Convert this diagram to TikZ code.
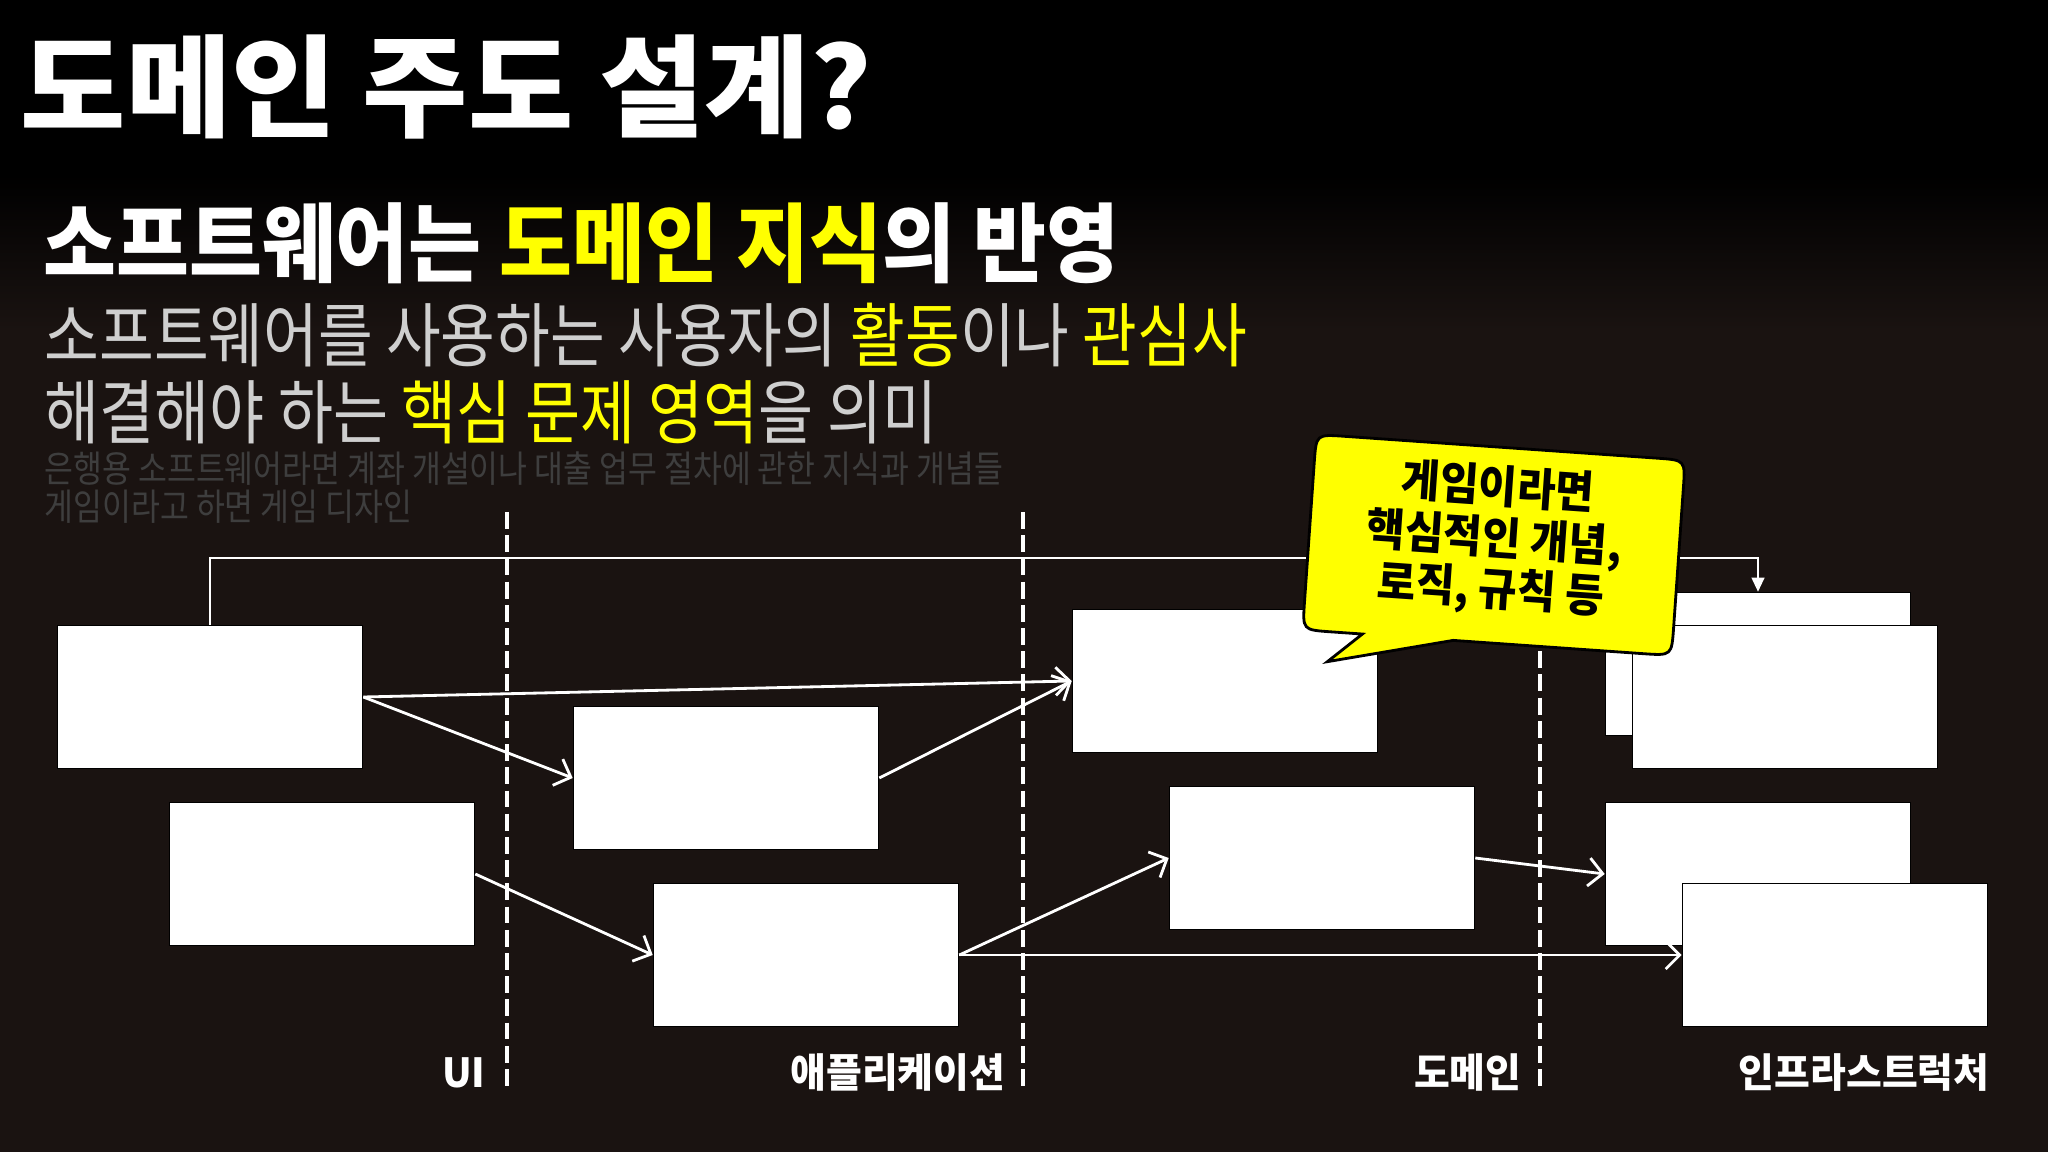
\documentclass[tikz,border=0pt]{standalone}
\usepackage{fontspec}
\newfontfamily\kr{Noto Sans CJK KR}
\usetikzlibrary{arrows.meta}

\definecolor{bgdark}{HTML}{1A1311}
\definecolor{hl}{HTML}{FFFF00}
\definecolor{descgray}{HTML}{CFCFCF}
\definecolor{faintgray}{HTML}{3E3E3E}

\tikzset{
	box/.style={draw=black, fill=white, line width=0.4pt, minimum width=3.05cm, minimum height=1.43cm, inner sep=0pt},
	flow/.style={draw=white, line width=0.8pt, -{Straight Barb[length=4pt,width=8pt]}},
	layer/.style={draw=white, line width=1.2pt, dash pattern=on 4.8pt off 1.8pt},
	txt/.style={inner sep=0pt, anchor=base west, transform shape},
	tag/.style={inner sep=0pt, anchor=base east, xscale=0.97, transform shape, white, font=\kr\bfseries\fontsize{11.4}{13}\selectfont},
}

\begin{document}
\begin{tikzpicture}[x=0.01cm, y=-0.01cm]	%1 unit = 1px, y going down
	\useasboundingbox (0,0) rectangle (2048,1152);
	\fill[bgdark] (0,0) rectangle (2048,1152);
	\fill[black] (0,0) rectangle (2048,175);
	\shade[top color=black, bottom color=bgdark] (0,175) rectangle (2048,330);

	% heading and text
	\node[txt, xscale=1.03, white, font=\kr\bfseries\fontsize{31.6}{36}\selectfont] (title) at (20,129) {도메인 주도 설계?};
	\node[txt, xscale=0.92, white, font=\kr\bfseries\fontsize{24.5}{28}\selectfont] (sub) at (43,276) {소프트웨어는 \textcolor{hl}{도메인 지식}의 반영};
	\node[txt, xscale=0.85, descgray, font=\kr\fontsize{19.9}{23}\selectfont] (desc1) at (44,362) {소프트웨어를 사용하는 사용자의 \textcolor{hl}{활동}이나 \textcolor{hl}{관심사}};
	\node[txt, xscale=0.855, descgray, font=\kr\fontsize{19.9}{23}\selectfont] (desc2) at (44,439) {해결해야 하는 \textcolor{hl}{핵심 문제 영역}을 의미};
	\node[txt, xscale=0.85, faintgray, font=\kr\fontsize{10.5}{12}\selectfont] (ex1) at (44,483) {은행용 소프트웨어라면 계좌 개설이나 대출 업무 절차에 관한 지식과 개념들};
	\node[txt, xscale=0.85, faintgray, font=\kr\fontsize{10.5}{12}\selectfont] (ex2) at (44,521) {게임이라고 하면 게임 디자인};

	% layer borders
	\foreach \x in {507,1023,1540}
		\draw[layer] (\x,512) -- (\x,1091);

	% layer names
	\node[tag] (lui) at (486,1087) {UI};
	\node[tag] (lapp) at (1006,1087) {애플리케이션};
	\node[tag] (ldom) at (1522,1087) {도메인};
	\node[tag] (linf) at (1990,1087) {인프라스트럭처};

	% boxes
	\node[box] (ui1) at (210,697) {};
	\node[box] (ui2) at (322,874) {};
	\node[box] (app1) at (726,778) {};
	\node[box] (app2) at (806,955) {};
	\node[box] (dom1) at (1225,681) {};
	\node[box] (dom2) at (1322,858) {};
	\node[box] (infB1) at (1758,664) {};	%back
	\node[box] (infF1) at (1785,697) {};	%front
	\node[box] (infB2) at (1758,874) {};
	\node[box] (infF2) at (1835,955) {};

	% dependencies
	\draw[flow] (ui1.east) -- (app1.west);
	\draw[flow] (ui1.east) -- (dom1.west);
	\draw[flow] (app1.east) -- (dom1.west);
	\draw[flow] (ui2.east) -- (app2.west);
	\draw[flow] (app2.east) -- (dom2.west);
	\draw[flow] (app2.east) -- (infF2.west);
	\draw[flow] (dom2.east) -- (infB2.west);
	\coordinate (topL) at (210,558);
	\draw[white, line width=0.6pt, -{Triangle[length=4pt,width=3.6pt]}] (ui1.north) -- (topL) -| (infB1.north);

	% speech bubble
	\begin{scope}[shift={(1494,544)}, rotate=-4]
		\filldraw[fill=hl, draw=black, line width=0.8pt]
			(-125,99) -- (-158,129) -- (-34,99) -- (157,99) .. controls (185,99) .. (185,71)
			-- (185,-69) .. controls (185,-97) .. (157,-97) -- (-157,-97) .. controls (-185,-97) .. (-185,-69)
			-- (-185,71) .. controls (-185,99) .. (-157,99) -- cycle;
		\node[inner sep=0pt, align=center, xscale=0.93, transform shape, black, font=\kr\bfseries\fontsize{12.8}{14.6}\selectfont] (callout) at (0,-4) {게임이라면\\핵심적인 개념,\\로직, 규칙 등};
	\end{scope}
\end{tikzpicture}
\end{document}
